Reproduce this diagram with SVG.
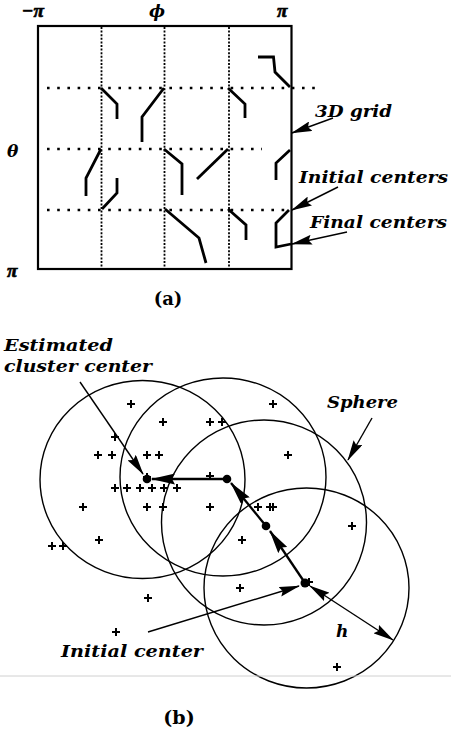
<svg xmlns="http://www.w3.org/2000/svg" width="451" height="736" viewBox="0 0 451 736">
<style>
.lbl{font-family:"DejaVu Serif","Liberation Serif",serif;font-weight:bold;font-style:italic;fill:#000}
.grk{font-family:"Liberation Serif","DejaVu Serif",serif;font-weight:bold;font-style:italic;fill:#000;stroke:#000;stroke-width:0.7}
.cap{font-family:"DejaVu Serif","Liberation Serif",serif;font-weight:bold;fill:#000}
.box{fill:none;stroke:#000;stroke-width:2.2}
.vdot{stroke:#000;stroke-width:1.8;stroke-dasharray:2 1.6;fill:none}
.hdot{stroke:#000;stroke-width:2.6;stroke-dasharray:2.6 7.6;fill:none}
.seg{fill:none;stroke:#000;stroke-width:2.8;stroke-linejoin:miter}
.thin{fill:none;stroke:#000;stroke-width:1.4}
.thick{fill:none;stroke:#000;stroke-width:2.3}
.circ{fill:none;stroke:#000;stroke-width:1.4}
.pl{fill:none;stroke:#000;stroke-width:2}
</style>
<defs>
<marker id="ah" viewBox="0 0 24 11" refX="23" refY="5.5" markerWidth="24" markerHeight="11" orient="auto-start-reverse" markerUnits="userSpaceOnUse">
<path d="M0,0 L24,5.5 L0,11 L3,5.5 z" fill="#000"/>
</marker>
<marker id="as" viewBox="0 0 21 10" refX="20" refY="5" markerWidth="21" markerHeight="10" orient="auto-start-reverse" markerUnits="userSpaceOnUse">
<path d="M0,0 L21,5 L0,10 L3,5 z" fill="#000"/>
</marker>
<path id="plus" d="M-4,0 H4 M0,-4 V4" class="pl"/>
</defs>

<!-- Part (a) -->
<g id="grid">
<rect class="box" x="38" y="26" width="253.5" height="243"/>
<path class="vdot" d="M101.5,27 V268 M164.5,27 V268 M229,27 V268"/>
<path class="hdot" d="M47,88 H320 M47,149 H262 M47,210 H290"/>
</g>
<g id="axis-labels">
<text class="grk" x="22" y="17" font-size="19">−π</text>
<text class="lbl" x="149" y="17" font-size="17">ϕ</text>
<text class="grk" x="277" y="17" font-size="19">π</text>
<text class="lbl" x="7" y="157" font-size="17">θ</text>
<text class="grk" x="7" y="277" font-size="19">π</text>
</g>
<g id="tracks">
<path class="seg" d="M258,57 H273.5 L275,72 L290,87"/>
<path class="seg" d="M101,88 L117,104 V119"/>
<path class="seg" d="M164,88 L142,117 V142"/>
<path class="seg" d="M228,88 L245,104 V118"/>
<path class="seg" d="M101,149 L86,178 V196"/>
<path class="seg" d="M117,178 V193 L102,209"/>
<path class="seg" d="M164,149 L182,164 V195"/>
<path class="seg" d="M228,149 L197,179"/>
<path class="seg" d="M290,150 L276,163 V180"/>
<path class="seg" d="M165,209 L199,238 L206,263"/>
<path class="seg" d="M228,209 L246,225 V240"/>
<path class="seg" d="M289,210 L276,223 V247 L291,244"/>
</g>
<g id="connectors-a">
<line class="thin" x1="333" y1="118" x2="292" y2="133" marker-end="url(#as)"/>
<line class="thin" x1="338" y1="187" x2="292" y2="210" marker-end="url(#as)"/>
<line class="thin" x1="347" y1="232" x2="292" y2="244" marker-end="url(#as)"/>
</g>
<g id="labels-a">
<text class="lbl" x="315" y="117" font-size="16.5" textLength="77" lengthAdjust="spacingAndGlyphs">3D grid</text>
<text class="lbl" x="299" y="183" font-size="17" textLength="149" lengthAdjust="spacingAndGlyphs">Initial centers</text>
<text class="lbl" x="310" y="228" font-size="17" textLength="137" lengthAdjust="spacingAndGlyphs">Final centers</text>
<text class="cap" x="168" y="305" font-size="18" text-anchor="middle">(a)</text>
</g>

<!-- Part (b) -->
<g id="spheres">
<ellipse class="circ" cx="142.5" cy="479.5" rx="102.5" ry="99"/>
<ellipse class="circ" cx="223" cy="477" rx="103" ry="99"/>
<ellipse class="circ" cx="264" cy="522.5" rx="102.5" ry="102.5"/>
<ellipse class="circ" cx="306.5" cy="588" rx="102.5" ry="100"/>
</g>
<g id="points">
<use href="#plus" x="131" y="404"/>
<use href="#plus" x="273" y="404"/>
<use href="#plus" x="163" y="422"/>
<use href="#plus" x="210" y="422"/>
<use href="#plus" x="222" y="422"/>
<use href="#plus" x="115" y="437"/>
<use href="#plus" x="98" y="455"/>
<use href="#plus" x="112" y="455"/>
<use href="#plus" x="147" y="455"/>
<use href="#plus" x="159" y="455"/>
<use href="#plus" x="288" y="455"/>
<use href="#plus" x="210" y="476"/>
<use href="#plus" x="147" y="477"/>
<use href="#plus" x="115" y="488"/>
<use href="#plus" x="127" y="488"/>
<use href="#plus" x="140" y="488"/>
<use href="#plus" x="152" y="488"/>
<use href="#plus" x="164" y="488"/>
<use href="#plus" x="177" y="488"/>
<use href="#plus" x="83" y="507"/>
<use href="#plus" x="147" y="507"/>
<use href="#plus" x="163" y="507"/>
<use href="#plus" x="210" y="507"/>
<use href="#plus" x="258" y="507"/>
<use href="#plus" x="270" y="507"/>
<use href="#plus" x="273" y="507"/>
<use href="#plus" x="352" y="526"/>
<use href="#plus" x="99" y="540"/>
<use href="#plus" x="242" y="540"/>
<use href="#plus" x="52" y="546"/>
<use href="#plus" x="63" y="546"/>
<use href="#plus" x="240" y="588"/>
<use href="#plus" x="309" y="582"/>
<use href="#plus" x="148" y="598"/>
<use href="#plus" x="116" y="632"/>
<use href="#plus" x="337" y="667"/>
</g>
<g id="connectors-b">
<line class="thick" x1="227" y1="479" x2="152" y2="479" marker-end="url(#ah)"/>
<line class="thick" x1="266" y1="526" x2="231" y2="483" marker-end="url(#ah)"/>
<line class="thick" x1="305" y1="583" x2="270" y2="531" marker-end="url(#ah)"/>
<line class="thin" x1="310" y1="586" x2="393" y2="640" marker-start="url(#as)" marker-end="url(#as)"/>
<line class="thin" x1="148" y1="632" x2="299" y2="586" marker-end="url(#as)"/>
<line class="thin" x1="80" y1="382" x2="143" y2="474" marker-end="url(#as)"/>
<line class="thin" x1="372" y1="418" x2="348" y2="460" marker-end="url(#as)"/>
</g>
<g id="centers">
<circle cx="147" cy="479" r="4.3"/>
<circle cx="227" cy="479" r="4.3"/>
<circle cx="266" cy="526" r="4.3"/>
<circle cx="305" cy="583" r="4.5"/>
</g>
<g id="labels-b">
<text class="lbl" x="4" y="351" font-size="17.5" textLength="109" lengthAdjust="spacingAndGlyphs">Estimated</text>
<text class="lbl" x="4" y="372" font-size="17.5" textLength="148" lengthAdjust="spacingAndGlyphs">cluster center</text>
<text class="lbl" x="327" y="408" font-size="17" textLength="71" lengthAdjust="spacingAndGlyphs">Sphere</text>
<text class="lbl" x="336" y="637" font-size="17">h</text>
<text class="lbl" x="61" y="657" font-size="17" textLength="142" lengthAdjust="spacingAndGlyphs">Initial center</text>
<text class="cap" x="179" y="724" font-size="19" text-anchor="middle">(b)</text>
</g>
<line x1="0" y1="676" x2="451" y2="676" stroke="#d0d0d0" stroke-width="1"/>
</svg>
